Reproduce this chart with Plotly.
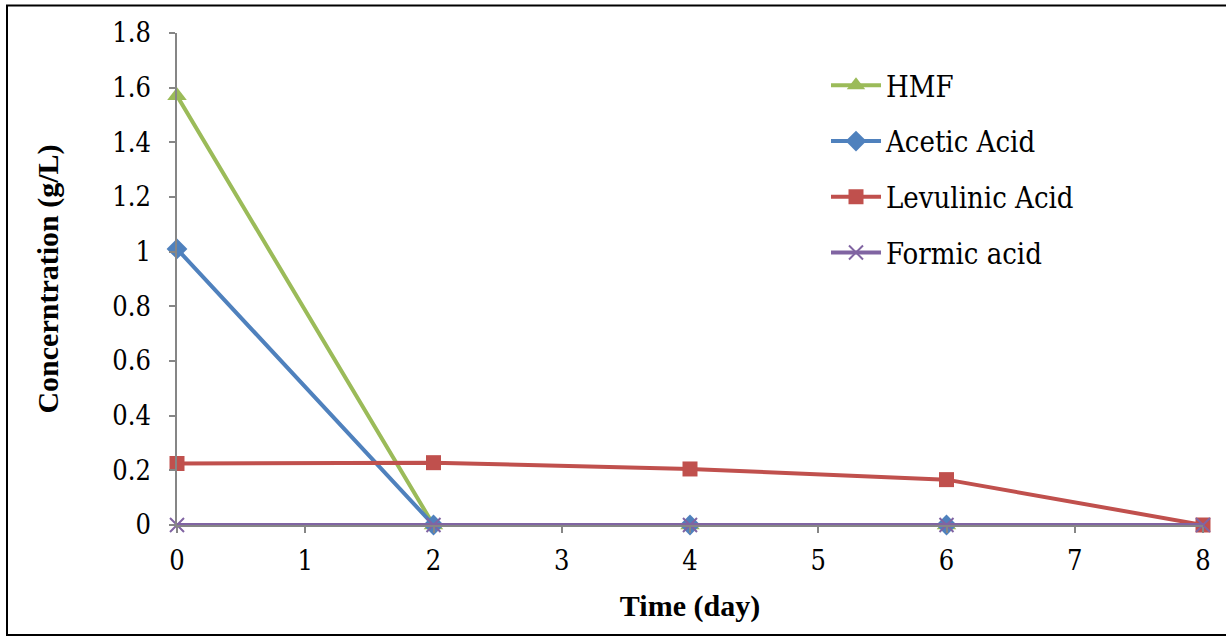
import plotly.graph_objects as go

# Data
hmf_x = [0, 2, 4, 6]
hmf_y = [1.57, 0, 0, 0]
acetic_x = [0, 2, 4, 6]
acetic_y = [1.01, 0, 0, 0]
levulinic_x = [0, 2, 4, 6, 8]
levulinic_y = [0.225, 0.228, 0.205, 0.166, 0]
formic_x = [0, 2, 4, 6, 8]
formic_y = [0, 0, 0, 0, 0]

x_ticks = [0, 1, 2, 3, 4, 5, 6, 7, 8]
y_ticks = [0, 0.2, 0.4, 0.6, 0.8, 1.0, 1.2, 1.4, 1.6, 1.8]
y_tick_text = ["0", "0.2", "0.4", "0.6", "0.8", "1", "1.2", "1.4", "1.6", "1.8"]

FONT = "Liberation Serif"
REG = "DejaVu Serif Condensed"
W, H = 1226, 637
L, R, T, B = 177, 23, 33, 112
PW, PH = W - L - R, H - T - B

fig = go.Figure()
fig.add_trace(go.Scatter(x=hmf_x, y=hmf_y, name="HMF", mode="lines+markers",
                         legendgroup="a",
                         line=dict(color="#9BBB59", width=4),
                         marker=dict(symbol="triangle-up", size=17, color="#9BBB59")))
fig.add_trace(go.Scatter(x=acetic_x, y=acetic_y, name="Acetic Acid", mode="lines+markers",
                         legendgroup="b",
                         line=dict(color="#4F81BD", width=4),
                         marker=dict(symbol="diamond", size=16, color="#4F81BD")))
fig.add_trace(go.Scatter(x=levulinic_x, y=levulinic_y, name="Levulinic Acid", mode="lines+markers",
                         legendgroup="c",
                         line=dict(color="#C0504D", width=4),
                         marker=dict(symbol="square", size=15, color="#C0504D")))
fig.add_trace(go.Scatter(x=formic_x, y=formic_y, name="Formic acid", mode="lines+markers",
                         legendgroup="d",
                         line=dict(color="#8064A2", width=4),
                         marker=dict(symbol="x-thin", size=14, color="#8064A2",
                                     line=dict(color="#8064A2", width=2))))
fig.update_traces(cliponaxis=False)

axis_common = dict(showgrid=False, zeroline=False, showline=True, linecolor="#868686",
                   linewidth=1.5, ticks="outside", ticklen=6, tickcolor="#868686",
                   tickwidth=1.5, tickfont=dict(family=REG, size=27, color="black"))

fig.update_xaxes(range=[0, 8], tickvals=x_ticks, **axis_common, ticklabelstandoff=5,
                 title=dict(text="<b>Time (day)</b>", font=dict(family=FONT, size=30, color="black"),
                            standoff=20),
                 automargin=False)
fig.update_yaxes(range=[0, 1.8], tickvals=y_ticks, ticktext=y_tick_text, **axis_common,
                 ticklabelstandoff=13,
                 title=dict(text="<b>Concerntration (g/L)</b>", font=dict(family=FONT, size=30, color="black"),
                            standoff=45),
                 automargin=False)

# outer frame
fig.add_shape(type="rect", xref="paper", yref="paper",
              x0=(7 - L) / PW, x1=(W + 10 - L) / PW,
              y0=(T + PH - 635) / PH, y1=(T + PH - 5.5) / PH,
              line=dict(color="black", width=2), layer="below")

fig.update_layout(
    width=W, height=H,
    margin=dict(l=L, r=R, t=T, b=B, autoexpand=False),
    paper_bgcolor="white", plot_bgcolor="white",
    font=dict(family=FONT, color="black"),
    legend=dict(x=(826 - L) / PW, xanchor="left", y=(T + PH - 60) / PH, yanchor="top",
                font=dict(family=REG, size=29, color="black"),
                bgcolor="rgba(0,0,0,0)", tracegroupgap=15, itemwidth=50),
    showlegend=True,
)

fig.write_html("out.html")
